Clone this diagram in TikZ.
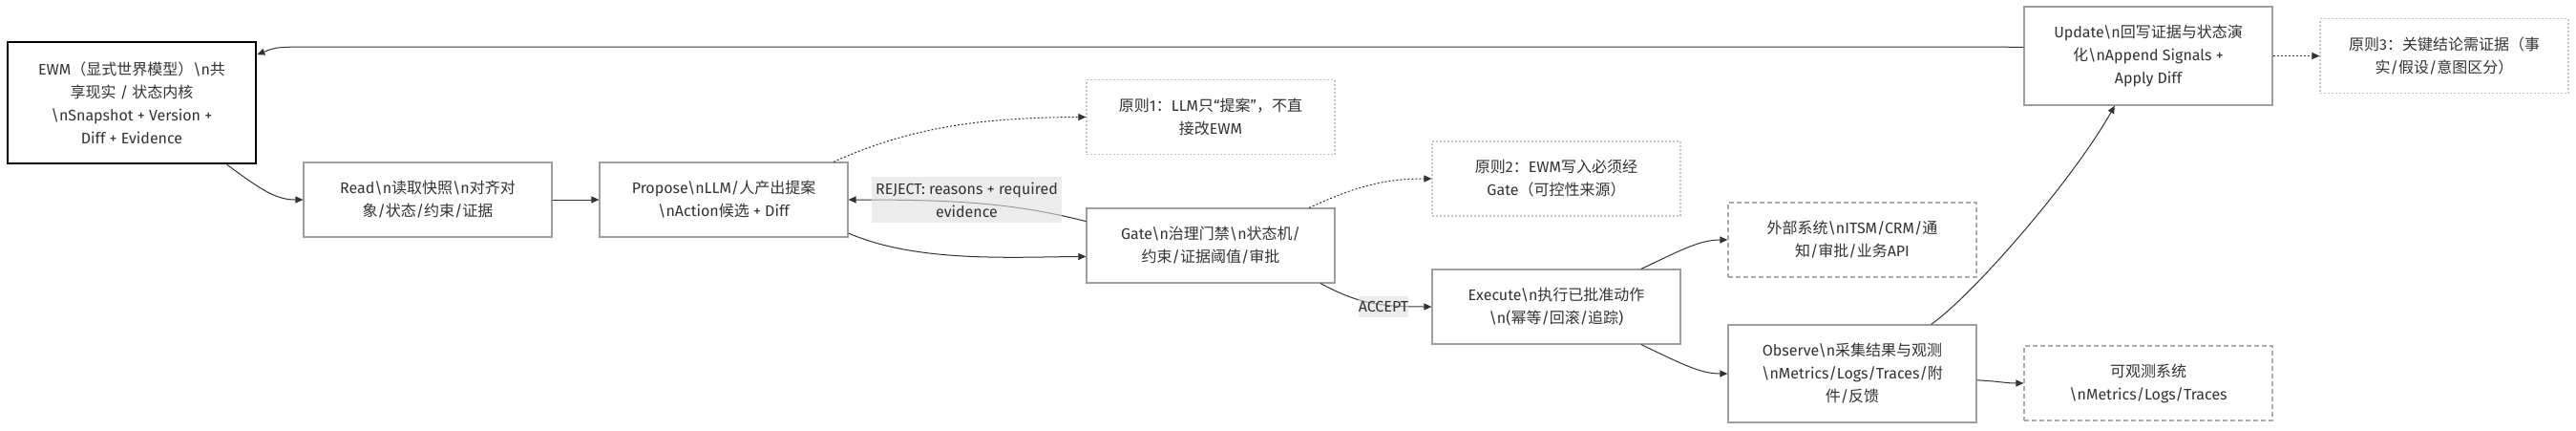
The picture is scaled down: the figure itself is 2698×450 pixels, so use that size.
\documentclass[tikz,border=0pt]{standalone}
\usepackage{fontspec}
\setmainfont{Fira Sans}
\newfontfamily\latinfont{Fira Sans}
\newfontfamily\cjkfont{Noto Sans CJK SC}
% switch to the CJK font for Chinese characters
\XeTeXinterchartokenstate=1
\newXeTeXintercharclass\cjkclass
\count255="3000
\loop\XeTeXcharclass\count255=\cjkclass\advance\count255 by 1 \ifnum\count255<"A000 \repeat
\count255="FF00
\loop\XeTeXcharclass\count255=\cjkclass\advance\count255 by 1 \ifnum\count255<"FFF0 \repeat
\XeTeXinterchartoks 0 \cjkclass = {\cjkfont}
\XeTeXinterchartoks 4095 \cjkclass = {\cjkfont}
\XeTeXinterchartoks \cjkclass 0 = {\latinfont}
\XeTeXinterchartoks \cjkclass 4095 = {\latinfont}
\usetikzlibrary{arrows.meta}
\definecolor{inkgray}{HTML}{333333}
\definecolor{boxgray}{HTML}{9E9E9E}
\definecolor{notegray}{HTML}{C4C4C4}
\definecolor{dashgray}{HTML}{ABABAB}
\tikzset{
  step box/.style={
    rectangle,
    draw=boxgray,
    line width=1.2pt,
    fill=white,
    text=inkgray,
    minimum width=260pt,
    minimum height=#1,
    align=center,
    inner sep=0pt,
  },
  step box/.default=78pt,
  core box/.style={step box=127pt, draw=black, line width=2.5pt},
  note box/.style={step box, draw=notegray, dash pattern=on 2pt off 2pt},
  ext box/.style={step box, draw=dashgray, dash pattern=on 5pt off 3pt},
  flow/.style={draw=inkgray, line width=1pt, -{Triangle[length=8pt,width=7pt]}},
  hint flow/.style={flow, dash pattern=on 2pt off 2pt},
  edge label/.style={fill=black!12, fill opacity=0.6, text opacity=1,
    text=inkgray, align=center, inner sep=0pt},
}
\newcommand{\bsn}{\textbackslash n}

\begin{document}
\begin{tikzpicture}[x=1pt, y=-1pt, font=\fontsize{16}{24}\selectfont]
\useasboundingbox (0,0) rectangle (2698,450);

\node[core box] (ewm) at (138,107.5)
  {EWM（显式世界模型）\bsn{}共\\享现实 / 状态内核\\\bsn{}Snapshot + Version +\\Diff + Evidence};
\node[step box] (read) at (448,209) {Read\bsn{}读取快照\bsn{}对齐对\\象/状态/约束/证据};
\node[step box] (propose) at (758,209) {Propose\bsn{}LLM/人产出提案\\\bsn{}Action候选 + Diff};
\node[step box] (gate) at (1268,257) {Gate\bsn{}治理门禁\bsn{}状态机/\\约束/证据阈值/审批};
\node[step box] (execute) at (1630,321) {Execute\bsn{}执行已批准动作\\\bsn{}(幂等/回滚/追踪)};
\node[ext box] (ext) at (1940,251) {外部系统\bsn{}ITSM/CRM/通\\知/审批/业务API};
\node[step box=102pt] (observe) at (1940,391)
  {Observe\bsn{}采集结果与观测\\\bsn{}Metrics/Logs/Traces/附\\件/反馈};
\node[step box=103pt] (update) at (2250,58.5)
  {Update\bsn{}回写证据与状态演\\化\bsn{}Append Signals +\\Apply Diff};
\node[ext box] (obssys) at (2250,401) {可观测系统\\\bsn{}Metrics/Logs/Traces};

\node[note box] (p1) at (1268,122.5) {原则1：LLM只“提案”，不直\\接改EWM};
\node[note box] (p2) at (1630,187) {原则2：EWM写入必须经\\Gate（可控性来源）};
\node[note box] (p3) at (2560,58.5) {原则3：关键结论需证据（事\\实/假设/意图区分）};

\draw[flow] (ewm.-33) .. controls (275,200) and (290,209) .. (read.west);
\draw[flow] (read) -- (propose);
\draw[flow] (propose.-15) .. controls (960,275) and (1060,269) .. (gate.185);
\draw[flow] (gate.169) .. controls (1060,212) and (1000,209) .. (propose.east);
\node[edge label, minimum width=199pt, minimum height=48pt] (reject) at (1012.5,209)
  {REJECT: reasons + required\\evidence};
\draw[flow] (gate.-19.5) .. controls (1420,316) and (1440,321) .. (execute.west);
\node[edge label, minimum width=51pt, minimum height=22pt] (accept) at (1449,321) {ACCEPT};
\draw[flow] (execute.24) .. controls (1760,262) and (1780,251) .. (ext.west);
\draw[flow] (execute.-24) .. controls (1760,380) and (1780,391) .. (observe.west);
\draw[flow] (observe.-3.5) .. controls (2095,399) and (2100,401) .. (obssys.west);
\draw[flow] (observe.32) .. controls (2065,310) and (2170,190) .. (update.-124);
\draw[flow] (update.176) .. controls (2070,49) .. (2010,49) -- (340,49)
  .. controls (290,49) .. (ewm.21);

\draw[hint flow] (propose.19) .. controls (950,135) and (1020,123) .. (p1.west);
\draw[hint flow] (gate.21) .. controls (1420,195) and (1450,187) .. (p2.west);
\draw[hint flow] (update) -- (p3);
\end{tikzpicture}
\end{document}
